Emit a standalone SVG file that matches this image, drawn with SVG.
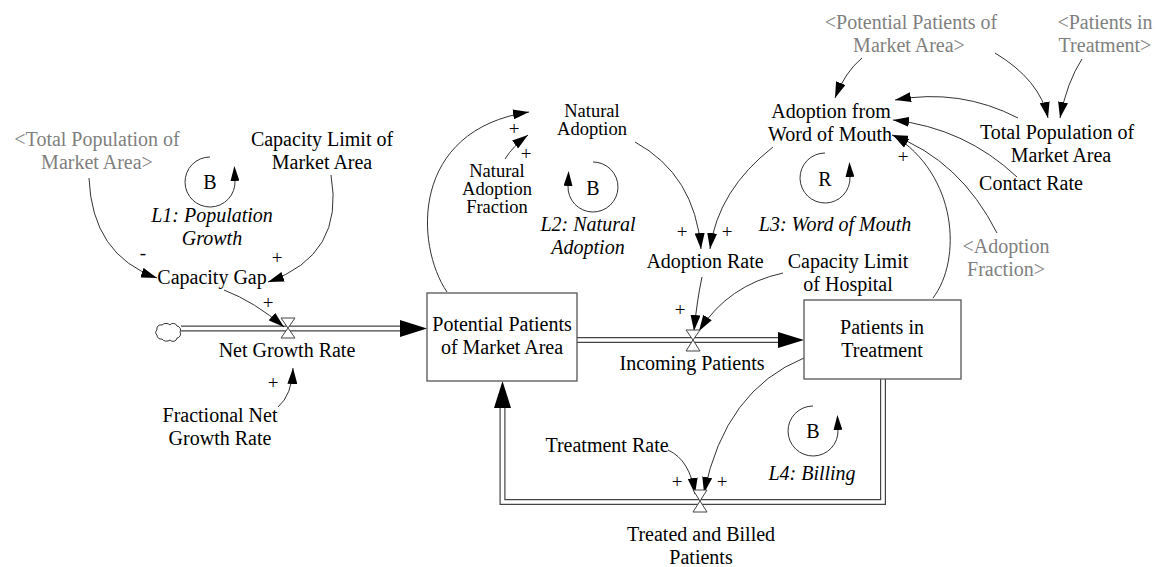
<svg xmlns="http://www.w3.org/2000/svg" width="1158" height="567" viewBox="0 0 1158 567" font-family="'Liberation Serif', 'DejaVu Serif', serif">
  <style>
    text { font-family: 'Liberation Serif', 'DejaVu Serif', serif; font-size: 20px; fill: #000; text-anchor: middle; }
    .shadow { fill: #7f7f7f; }
    .loop { font-style: italic; }
    .sign { font-size: 19px; }
    .tight { font-size: 18.5px; }
    .link { fill: none; stroke: #333; stroke-width: 1; marker-end: url(#ah); }
    .looparc { fill: none; stroke: #333; stroke-width: 1; marker-end: url(#lh); }
    .stock { fill: #fff; stroke: #555; stroke-width: 1.3; }
    .pipeOuter { fill: none; stroke: #444; stroke-width: 6; stroke-linejoin: miter; }
    .pipeInner { fill: none; stroke: #fff; stroke-width: 3.6; stroke-linejoin: miter; }
    .flowhead { fill: #000; }
    .valve { fill: #fff; stroke: #444; stroke-width: 1; }
    .cloud { fill: #fff; stroke: #333; stroke-width: 1; }
  </style>
  <defs>
    <marker id="ah" viewBox="0 0 16 10" refX="16" refY="5" markerWidth="16" markerHeight="10" markerUnits="userSpaceOnUse" orient="auto">
      <path d="M0,0 L16,5 L0,10 z" fill="#000"/>
    </marker>
    <marker id="lh" viewBox="0 0 15 9" refX="0" refY="4.5" markerWidth="15" markerHeight="9" markerUnits="userSpaceOnUse" orient="auto">
      <path d="M0,0 L15,4.5 L0,9 z" fill="#000"/>
    </marker>
  </defs>

  <rect width="1158" height="567" fill="#fff"/>

  <!-- material flows (pipes) -->
  <g id="flows">
    <path class="pipeOuter" d="M181,328.5 H402"/>
    <path class="pipeInner" d="M181,328.5 H402"/>
    <polygon class="flowhead" points="400,320 427,328.5 400,337"/>

    <path class="pipeOuter" d="M577,340 H780"/>
    <path class="pipeInner" d="M577,340 H780"/>
    <polygon class="flowhead" points="778,332 804,340 778,348"/>

    <path class="pipeOuter" d="M883,379 V502 H502.5 V406"/>
    <path class="pipeInner" d="M883,379 V502 H502.5 V406"/>
    <polygon class="flowhead" points="494,408 502.5,381 511,408"/>
  </g>

  <!-- information links -->
  <g id="connectors">
    <path class="link" d="M89,178 Q92,255 157,278"/>
    <path class="link" d="M331,175 Q345,255 268,282"/>
    <path class="link" d="M224,290 Q255,302 284,327"/>
    <path class="link" d="M278,407 Q292,395 293,368"/>
    <path class="link" d="M447,292 C415,245 410,130 529,112"/>
    <path class="link" d="M505,159 Q513,146 528,135"/>
    <path class="link" d="M635,142 Q695,175 701,249"/>
    <path class="link" d="M773,147 Q718,190 710,249"/>
    <path class="link" d="M702,277 Q697,300 694,331"/>
    <path class="link" d="M783,273 Q728,285 699,331"/>
    <path class="link" d="M862,58 Q845,72 835,98"/>
    <path class="link" d="M995,53 Q1040,80 1048,118"/>
    <path class="link" d="M1082,59 Q1067,82 1060,118"/>
    <path class="link" d="M1018,118 Q960,88 895,100"/>
    <path class="link" d="M1017,177 Q965,128 893,120"/>
    <path class="link" d="M997,233 Q960,160 892,135"/>
    <path class="link" d="M933,298 C962,260 958,175 893,135"/>
    <path class="link" d="M804,358 Q725,390 704,493"/>
    <path class="link" d="M668,450 Q690,460 695,494"/>
  </g>

  <!-- link polarities -->
  <g id="polarities">
    <text class="sign" x="143" y="259">-</text>
    <text class="sign" x="277" y="264">+</text>
    <text class="sign" x="268" y="309">+</text>
    <text class="sign" x="273" y="389">+</text>
    <text class="sign" x="514" y="135">+</text>
    <text class="sign" x="526" y="160">+</text>
    <text class="sign" x="682" y="238">+</text>
    <text class="sign" x="727" y="238">+</text>
    <text class="sign" x="680" y="316">+</text>
    <text class="sign" x="903" y="163">+</text>
    <text class="sign" x="677" y="488">+</text>
    <text class="sign" x="722" y="488">+</text>
  </g>

  <!-- source cloud -->
  <g id="cloud-source">
    <path class="cloud" d="M157,330 a4,4 0 0 1 5,-5 a5,4 0 0 1 8,0 a4,4 0 0 1 7,1 a4,4 0 0 1 3,6 a4,4 0 0 1 -3,6 a4,4 0 0 1 -7,2 a5,4 0 0 1 -8,-1 a4,4 0 0 1 -5,-4 a3,3 0 0 1 0,-5 z"/>
  </g>

  <!-- stocks -->
  <g id="potential-patients">
    <rect class="stock" x="427" y="293" width="150" height="88"/>
    <text x="502" y="331">Potential Patients</text>
    <text x="502" y="354">of Market Area</text>
  </g>
  <g id="patients-in-treatment">
    <rect class="stock" x="804" y="300" width="157" height="79"/>
    <text x="882" y="334">Patients in</text>
    <text x="882" y="357">Treatment</text>
  </g>

  <!-- flow valves -->
  <g id="net-growth-rate">
    <path class="valve" d="M281,318 H295 L288,328 Z M288,328 L281,338 H295 Z"/>
    <text x="287" y="357">Net Growth Rate</text>
  </g>
  <g id="incoming-patients">
    <path class="valve" d="M686,330 H700 L693,340 Z M693,340 L686,351 H700 Z"/>
    <text x="692" y="370">Incoming Patients</text>
  </g>
  <g id="treated-and-billed-patients">
    <path class="valve" d="M693,490 H707 L700,501 Z M700,501 L693,512 H707 Z"/>
    <text x="701" y="541">Treated and Billed</text>
    <text x="701" y="564">Patients</text>
  </g>

  <!-- auxiliaries -->
  <g id="total-population-shadow-1">
    <text class="shadow" x="97" y="146">&lt;Total Population of</text>
    <text class="shadow" x="97" y="169">Market Area&gt;</text>
  </g>
  <g id="capacity-limit-market">
    <text x="322" y="146">Capacity Limit of</text>
    <text x="322" y="169">Market Area</text>
  </g>
  <g id="capacity-gap">
    <text x="212" y="284">Capacity Gap</text>
  </g>
  <g id="fractional-net-growth-rate">
    <text x="220" y="422">Fractional Net</text>
    <text x="220" y="445">Growth Rate</text>
  </g>
  <g id="natural-adoption">
    <text class="tight" x="592" y="117">Natural</text>
    <text class="tight" x="592" y="135">Adoption</text>
  </g>
  <g id="natural-adoption-fraction">
    <text class="tight" x="497" y="177">Natural</text>
    <text class="tight" x="497" y="195">Adoption</text>
    <text class="tight" x="497" y="213">Fraction</text>
  </g>
  <g id="adoption-rate">
    <text x="705" y="268">Adoption Rate</text>
  </g>
  <g id="capacity-limit-hospital">
    <text x="848" y="268">Capacity Limit</text>
    <text x="848" y="291">of Hospital</text>
  </g>
  <g id="adoption-word-of-mouth">
    <text x="831" y="118">Adoption from</text>
    <text x="830" y="141">Word of Mouth</text>
  </g>
  <g id="potential-patients-shadow">
    <text class="shadow" x="911" y="29">&lt;Potential Patients of</text>
    <text class="shadow" x="909" y="52">Market Area&gt;</text>
  </g>
  <g id="patients-in-treatment-shadow">
    <text class="shadow" x="1105" y="29">&lt;Patients in</text>
    <text class="shadow" x="1105" y="52">Treatment&gt;</text>
  </g>
  <g id="total-population">
    <text x="1057" y="139">Total Population of</text>
    <text x="1061" y="162">Market Area</text>
  </g>
  <g id="contact-rate">
    <text x="1031" y="190">Contact Rate</text>
  </g>
  <g id="adoption-fraction-shadow">
    <text class="shadow" x="1006" y="253">&lt;Adoption</text>
    <text class="shadow" x="1006" y="276">Fraction&gt;</text>
  </g>
  <g id="treatment-rate">
    <text x="607" y="452">Treatment Rate</text>
  </g>

  <!-- feedback loop markers -->
  <g id="loop-L1">
    <path class="looparc" d="M210,157 A25,25 0 1 0 235,181"/>
    <text x="210" y="189">B</text>
    <text class="loop" x="212" y="222">L1: Population</text>
    <text class="loop" x="212" y="245">Growth</text>
  </g>
  <g id="loop-L2">
    <path class="looparc" d="M593,162 A25,25 0 1 1 568,186"/>
    <text x="593" y="195">B</text>
    <text class="loop" x="588" y="231">L2: Natural</text>
    <text class="loop" x="588" y="254">Adoption</text>
  </g>
  <g id="loop-L3">
    <path class="looparc" d="M825,153 A25,25 0 1 0 850,177"/>
    <text x="825" y="186">R</text>
    <text class="loop" x="835" y="231">L3: Word of Mouth</text>
  </g>
  <g id="loop-L4">
    <path class="looparc" d="M813,406 A25,25 0 1 0 838,430"/>
    <text x="813" y="438">B</text>
    <text class="loop" x="812" y="480">L4: Billing</text>
  </g>
</svg>
